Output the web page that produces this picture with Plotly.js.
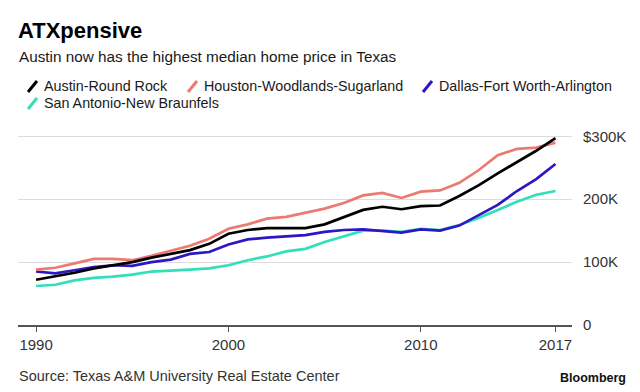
<!DOCTYPE html>
<html>
<head>
<meta charset="utf-8">
<script src="https://cdn.plot.ly/plotly-3.0.1.min.js"></script>
<style>html,body{margin:0;padding:0;background:#fff;}#chart{width:640px;height:392px;}</style>
</head>
<body>
<div id="chart"></div>
<script>
// ---- data (values in thousands of dollars) ----
const years = [1990,1991,1992,1993,1994,1995,1996,1997,1998,1999,2000,2001,2002,2003,2004,2005,2006,2007,2008,2009,2010,2011,2012,2013,2014,2015,2016,2017];
const austin = [72,77,83,90,95,100,107,113,119,129,145,151,154,154,154,160,172,183,188,184,189,190,205,222,241,259,277,297];
const houston = [88,91,98,105,105,103,110,118,126,137,153,160,169,172,178,185,194,206,210,202,212,214,226,246,270,280,282,290];
const dallas = [85,82,87,92,95,94,100,104,113,116,128,136,139,141,143,148,151,152,149,147,152,150,158,175,191,213,232,256];
const sanAntonio = [62,64,71,75,77,80,85,86,88,90,95,103,109,117,121,132,141,150,150,148,153,151,159,170,183,196,207,213];
const seriesNames = ["Austin-Round Rock","Houston-Woodlands-Sugarland","Dallas-Fort Worth-Arlington","San Antonio-New Braunfels"];
const xTickVals = [1990,2000,2010,2017];
const xTickText = ["1990","2000","2010","2017"];
const yTickVals = [0,100,200,300];
const yTickText = ["0","100K","200K","$300K"];

// ---- style ----
const colors = ["#000000","#ec7a72","#2b17c4","#33dfb8"];
const FONT = "'Liberation Sans', Arial, Helvetica, sans-serif";
const W = 640, H = 392;
const M = {l:18, r:68, t:130, b:67};
const PW = W - M.l - M.r, PH = H - M.t - M.b;
const px = x => (x - M.l) / PW;
const py = y => (H - M.b - y) / PH;

const values = [austin, houston, dallas, sanAntonio];
const traces = values.map((v, i) => ({
  type: "scatter", mode: "lines", x: years, y: v, name: seriesNames[i],
  line: {color: colors[i], width: 2.7}, hoverinfo: "skip"
}));
// draw order: teal, blue, red, black on top
const order = [3,2,1,0];
const data = order.map(i => traces[i]);

// legend layout (pixel positions of each entry's text start and row center)
const legendPos = [{x:43, y:86},{x:203, y:86},{x:438, y:86},{x:43, y:103}];

const annotations = [
  {text:"Austin now has the highest median home price in Texas", x:px(18), y:py(56), xref:"paper", yref:"paper",
   xanchor:"left", yanchor:"middle", showarrow:false, borderpad:0, font:{family:FONT, size:15.3, color:"#1a1a1a"}},
  {text:"Source: Texas A&amp;M University Real Estate Center", x:px(18), y:py(376), xref:"paper", yref:"paper",
   xanchor:"left", yanchor:"middle", showarrow:false, borderpad:0, font:{family:FONT, size:14.5, color:"#333"}},
  {text:"<b>Bloomberg</b>", x:px(627), y:py(378), xref:"paper", yref:"paper",
   xanchor:"right", yanchor:"middle", showarrow:false, borderpad:0, font:{family:FONT, size:12.5, color:"#111"}}
];
const shapes = [];
seriesNames.forEach((n, i) => {
  const p = legendPos[i];
  annotations.push({text:n, x:px(p.x), y:py(p.y), xref:"paper", yref:"paper", xanchor:"left", yanchor:"middle",
    showarrow:false, borderpad:0, font:{family:FONT, size:14.3, color:"#1a1a1a"}});
  shapes.push({type:"line", xref:"paper", yref:"paper", x0:px(p.x-15), y0:py(p.y+6), x1:px(p.x-6), y1:py(p.y-5),
    line:{color:colors[i], width:3}});
});

const layout = {
  width: W, height: H, margin: M, paper_bgcolor:"#fff", plot_bgcolor:"#fff",
  showlegend: false,
  title: {text:"<b>ATXpensive</b>", font:{family:FONT, size:22, color:"#000"}, xref:"container", yref:"container",
          x: 18/W, xanchor:"left", y: 1 - 30/H, yanchor:"middle"},
  xaxis: {range:[1989.06, 2017.86], tickvals:xTickVals, ticktext:xTickText, showgrid:false, zeroline:false,
          showline:true, linecolor:"#555", linewidth:1.5, ticks:"outside", ticklen:5, tickcolor:"#555", tickwidth:1,
          tickfont:{family:FONT, size:15, color:"#333"}, fixedrange:true},
  yaxis: {range:[0, 310], side:"right", tickvals:yTickVals, ticktext:yTickText, showgrid:true, gridcolor:"#dcdcdc",
          gridwidth:1, zeroline:false, showline:false, ticks:"", ticklabelstandoff:10,
          tickfont:{family:FONT, size:15, color:"#333"}, fixedrange:true},
  annotations: annotations, shapes: shapes
};
Plotly.newPlot("chart", data, layout, {displayModeBar:false, staticPlot:true});
</script>
</body>
</html>
